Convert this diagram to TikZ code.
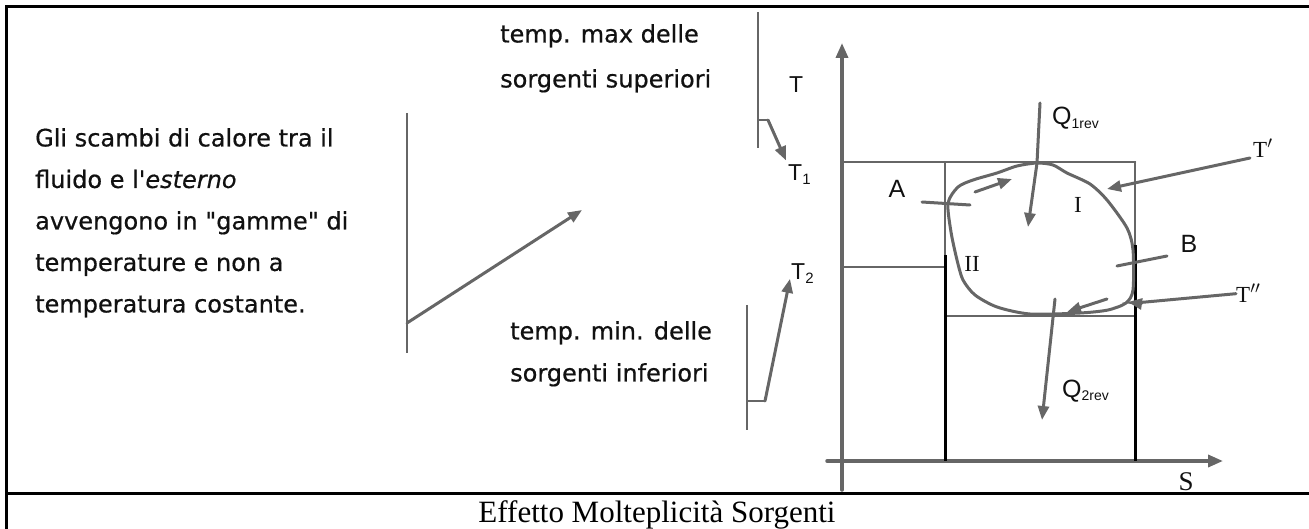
\documentclass[tikz,border=0pt]{standalone}
\usepackage{fontspec}
\setmainfont{Liberation Serif}
\newfontfamily\notefont[FakeBold=0.6]{DejaVu Sans}
\newfontfamily\axisfont{Liberation Sans}
\usetikzlibrary{positioning,arrows.meta}
\definecolor{ink}{HTML}{111111}
\definecolor{pen}{HTML}{666666}

\begin{document}
\begin{tikzpicture}[x=1pt, y=-1pt,
  frame/.style={draw=black, line width=3pt},
  note/.style={inner sep=0pt, align=left, text=ink, font=\notefont\fontsize{24}{41.5}\selectfont},
  lbl/.style={inner sep=0pt, text=ink, font=\axisfont\fontsize{23}{23}\selectfont},
  rom/.style={inner sep=0pt, text=ink, font=\fontsize{23}{23}\selectfont},
  brk/.style={draw=pen, line width=1.2pt},
  pencil/.style={draw=pen, line width=3pt, line cap=round},
  arr/.style={pencil, -{Triangle[length=14pt,width=11pt]}}]
\useasboundingbox (0,0) rectangle (1309,529);
% table frame and caption
\draw[frame] (6,529) -- (6,7) -- (1309,7);
\draw[frame] (6,493) -- (1309,493);
\node[font=\fontsize{31}{31}\selectfont, anchor=base] (cap) at (657,522) {Effetto Molteplicità Sorgenti};

% left text and pointers
\node[note, anchor=north west] (txt) at (35,128) {Gli scambi di calore tra il\\ fluido e l'{\itshape esterno}\\ avvengono in "gamme" di\\ temperature e non a\\ temperatura costante.};
\draw[brk] (407,113) -- (407,353);
\coordinate (mid) at (582,210);
\draw[arr] (407,323) -- (mid);
\node[note, anchor=north west, font=\notefont\fontsize{24}{45}\selectfont] (sup) at (500,24) {temp. max delle\\ sorgenti superiori};
\node[note, anchor=north west, font=\notefont\fontsize{24}{42}\selectfont] (inf) at (510,321) {temp. min. delle\\ sorgenti inferiori};
\draw[brk] (758,12) -- (758,148);
\draw[brk] (747,305) -- (747,430);

% T-S diagram
\node[lbl, anchor=base west] (T) at (789,93) {T};
\node[lbl, anchor=base west] (T1) at (788,181) {T\textsubscript{\fontsize{15}{15}\selectfont 1}};
\node[lbl, anchor=base west] (T2) at (791,280) {T\textsubscript{\fontsize{15}{15}\selectfont 2}};
\coordinate (hi) at (768,120);
\coordinate (lo) at (765,401);
\draw[brk] (758,120) -- (hi);
\draw[brk] (747,401) -- (lo);
\draw[arr, shorten >=5pt] (hi) -- (T1.north west);
\draw[arr, shorten >=5pt] (lo) -- (T2.west);
\draw[pencil, line width=3.5pt, -{Triangle[length=15pt,width=12pt]}] (842,490) -- (842,43);
\draw[pencil, line width=3.5pt, -{Triangle[length=15pt,width=12pt]}] (827,461) -- (1223,461);
\node[rom, anchor=base, font=\fontsize{27}{27}\selectfont] (S) at (1186,490) {S};
\draw[pencil, line width=2.5pt] (842,162) -- (1135,162);
\draw[pencil, line width=2.5pt] (945,162) rectangle (1135,461);
\draw[pencil, line width=2.5pt] (945,316) -- (1135,316);
\draw[brk] (842,267) -- (945,267);
\draw[black, line width=3pt] (945,255) -- (945,461);
\draw[black, line width=3pt] (1135,245) -- (1135,461);

% cycle
\draw[pencil] plot[smooth cycle, tension=0.45] coordinates {
  (948,203) (958,187) (973,180) (997,173) (1017,166) (1037,163) (1053,165)
  (1067,173) (1090,184) (1107,200) (1127,228) (1133,250) (1133,290) (1126,303)
  (1108,310) (1080,313) (1030,314) (997,307) (975,295) (963,280) (957,260) (951,232)};
\node[lbl, anchor=base, font=\axisfont\fontsize{25}{25}\selectfont] (A) at (897,198) {A};
\node[lbl, anchor=base, font=\axisfont\fontsize{25}{25}\selectfont] (B) at (1189,253) {B};
\node[rom, anchor=base] (I) at (1078,213) {I};
\node[rom, anchor=base] (II) at (972,272) {II};
\draw[pencil] (922,202) -- (970,205);
\draw[pencil] (1117,266) -- (1167,256);
\draw[arr] (975,192) -- (1012,179);
\draw[arr] (1107,299) -- (1067,312);

% heat and temperature pointers
\node[lbl, anchor=base west, font=\axisfont\fontsize{25}{25}\selectfont] (Q1) at (1052,125) {Q\textsubscript{\fontsize{14}{14}\selectfont 1rev}};
\node[lbl, anchor=base west, font=\axisfont\fontsize{25}{25}\selectfont] (Q2) at (1062,397) {Q\textsubscript{\fontsize{14}{14}\selectfont 2rev}};
\draw[arr] (1040,103) -- (1037,163) -- (1028,227);
\draw[arr] (1055,299) -- (1042,420);
\node[rom, anchor=base west] (Tp) at (1253,158) {T$'$};
\node[rom, anchor=base west] (Tpp) at (1236,303) {T$''$};
\draw[arr] (1250,158) -- (1107,189);
\draw[arr] (Tpp.west) -- (1135,303) -- (1128,302);
\end{tikzpicture}
\end{document}
